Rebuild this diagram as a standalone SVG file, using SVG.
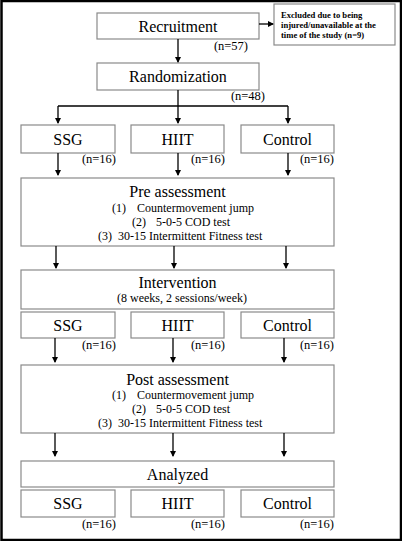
<svg xmlns="http://www.w3.org/2000/svg" width="402" height="541" viewBox="0 0 402 541" font-family="'Liberation Serif', 'Times New Roman', Times, serif">
<defs>
<marker id="ah" markerWidth="6" markerHeight="6" refX="5" refY="3" orient="auto" markerUnits="userSpaceOnUse">
<path d="M0,0 L6,3 L0,6 Z" fill="#000"/>
</marker>
<style>
text{font-family:'Liberation Serif','Times New Roman',Times,serif;fill:#000}
.box{fill:#fff;stroke:#8a8a8a;stroke-width:1.2}
.big{font-size:16px;text-anchor:middle}
.sm{font-size:12px}
.n{font-size:12.5px;text-anchor:end}
.ex{font-size:8.6px;font-weight:bold}
.c{text-anchor:middle}
.ln{stroke:#000;stroke-width:1.3;fill:none}
.ar{stroke:#000;stroke-width:1.3;fill:none;marker-end:url(#ah)}
</style>
</defs>
<rect x="0" y="0" width="402" height="541" fill="#fff"/>
<rect x="1.5" y="1" width="399.5" height="539" fill="none" stroke="#000" stroke-width="2.5"/>

<g id="recruitment">
<rect class="box" x="97" y="13" width="162" height="26"/>
<text class="big" x="178" y="32">Recruitment</text>
<text class="n" x="248" y="50">(n=57)</text>
</g>
<g id="excluded">
<rect class="box" x="274" y="4" width="121" height="41"/>
<text class="ex" x="281" y="18">Excluded due to being</text>
<text class="ex" x="281" y="28">injured/unavailable at the</text>
<text class="ex" x="281" y="38">time of the study (n=9)</text>
</g>
<g id="randomization">
<rect class="box" x="97" y="63" width="162" height="27"/>
<text class="big" x="178" y="82">Randomization</text>
<text class="n" x="265" y="100">(n=48)</text>
</g>

<g id="ssg1">
<rect class="box" x="21" y="125" width="94" height="28"/>
<text class="big" x="68" y="145">SSG</text>
<text class="n" x="116" y="163">(n=16)</text>
</g>
<g id="hiit1">
<rect class="box" x="131" y="125" width="93" height="28"/>
<text class="big" x="177.5" y="145">HIIT</text>
<text class="n" x="225" y="163">(n=16)</text>
</g>
<g id="control1">
<rect class="box" x="241" y="125" width="93" height="28"/>
<text class="big" x="287.5" y="145">Control</text>
<text class="n" x="334" y="163">(n=16)</text>
</g>

<g id="pre">
<rect class="box" x="21" y="178" width="313" height="68"/>
<text class="big" x="177.5" y="197">Pre assessment</text>
<text class="sm" x="112" y="212">(1)</text>
<text class="sm" x="137" y="212">Countermovement jump</text>
<text class="sm" x="132" y="226">(2)</text>
<text class="sm" x="156" y="226">5-0-5 COD test</text>
<text class="sm" x="98" y="240">(3)</text>
<text class="sm" x="118" y="240">30-15 Intermittent Fitness test</text>
</g>

<g id="intervention">
<rect class="box" x="21" y="270" width="313" height="39"/>
<text class="big" x="177.5" y="288">Intervention</text>
<text class="sm c" x="182" y="302">(8 weeks, 2 sessions/week)</text>
</g>

<g id="ssg2">
<rect class="box" x="21" y="312" width="94" height="26"/>
<text class="big" x="68" y="331">SSG</text>
<text class="n" x="116" y="349">(n=16)</text>
</g>
<g id="hiit2">
<rect class="box" x="131" y="312" width="93" height="26"/>
<text class="big" x="177.5" y="331">HIIT</text>
<text class="n" x="225" y="349">(n=16)</text>
</g>
<g id="control2">
<rect class="box" x="241" y="312" width="93" height="26"/>
<text class="big" x="287.5" y="331">Control</text>
<text class="n" x="334" y="349">(n=16)</text>
</g>

<g id="post">
<rect class="box" x="21" y="365" width="313" height="68"/>
<text class="big" x="177.5" y="385">Post assessment</text>
<text class="sm" x="112" y="399">(1)</text>
<text class="sm" x="137" y="399">Countermovement jump</text>
<text class="sm" x="132" y="413">(2)</text>
<text class="sm" x="156" y="413">5-0-5 COD test</text>
<text class="sm" x="98" y="427">(3)</text>
<text class="sm" x="118" y="427">30-15 Intermittent Fitness test</text>
</g>

<g id="analyzed">
<rect class="box" x="21" y="461" width="313" height="26"/>
<text class="big" x="177.5" y="480">Analyzed</text>
</g>

<g id="ssg3">
<rect class="box" x="21" y="490" width="94" height="27"/>
<text class="big" x="68" y="509">SSG</text>
<text class="n" x="116" y="528">(n=16)</text>
</g>
<g id="hiit3">
<rect class="box" x="131" y="490" width="93" height="27"/>
<text class="big" x="177.5" y="509">HIIT</text>
<text class="n" x="225" y="528">(n=16)</text>
</g>
<g id="control3">
<rect class="box" x="241" y="490" width="93" height="27"/>
<text class="big" x="287.5" y="509">Control</text>
<text class="n" x="334" y="528">(n=16)</text>
</g>

<g id="connectors">
<line class="ar" x1="259" y1="24" x2="273" y2="24"/>
<line class="ar" x1="178" y1="39" x2="178" y2="62"/>
<line class="ln" x1="178" y1="90" x2="178" y2="106"/>
<line class="ln" x1="58" y1="106" x2="288" y2="106"/>
<line class="ar" x1="58" y1="106" x2="58" y2="123"/>
<line class="ar" x1="178" y1="106" x2="178" y2="123"/>
<line class="ar" x1="288" y1="106" x2="288" y2="123"/>
<line class="ar" x1="58" y1="153" x2="58" y2="175"/>
<line class="ar" x1="178" y1="153" x2="178" y2="175"/>
<line class="ar" x1="288" y1="153" x2="288" y2="175"/>
<line class="ar" x1="56" y1="246" x2="56" y2="268"/>
<line class="ar" x1="174" y1="246" x2="174" y2="268"/>
<line class="ar" x1="286" y1="246" x2="286" y2="268"/>
<line class="ar" x1="55" y1="338" x2="55" y2="362"/>
<line class="ar" x1="173" y1="338" x2="173" y2="362"/>
<line class="ar" x1="284" y1="338" x2="284" y2="362"/>
<line class="ar" x1="55" y1="433" x2="55" y2="456"/>
<line class="ar" x1="173" y1="433" x2="173" y2="456"/>
<line class="ar" x1="284" y1="433" x2="284" y2="456"/>
</g>
</svg>
